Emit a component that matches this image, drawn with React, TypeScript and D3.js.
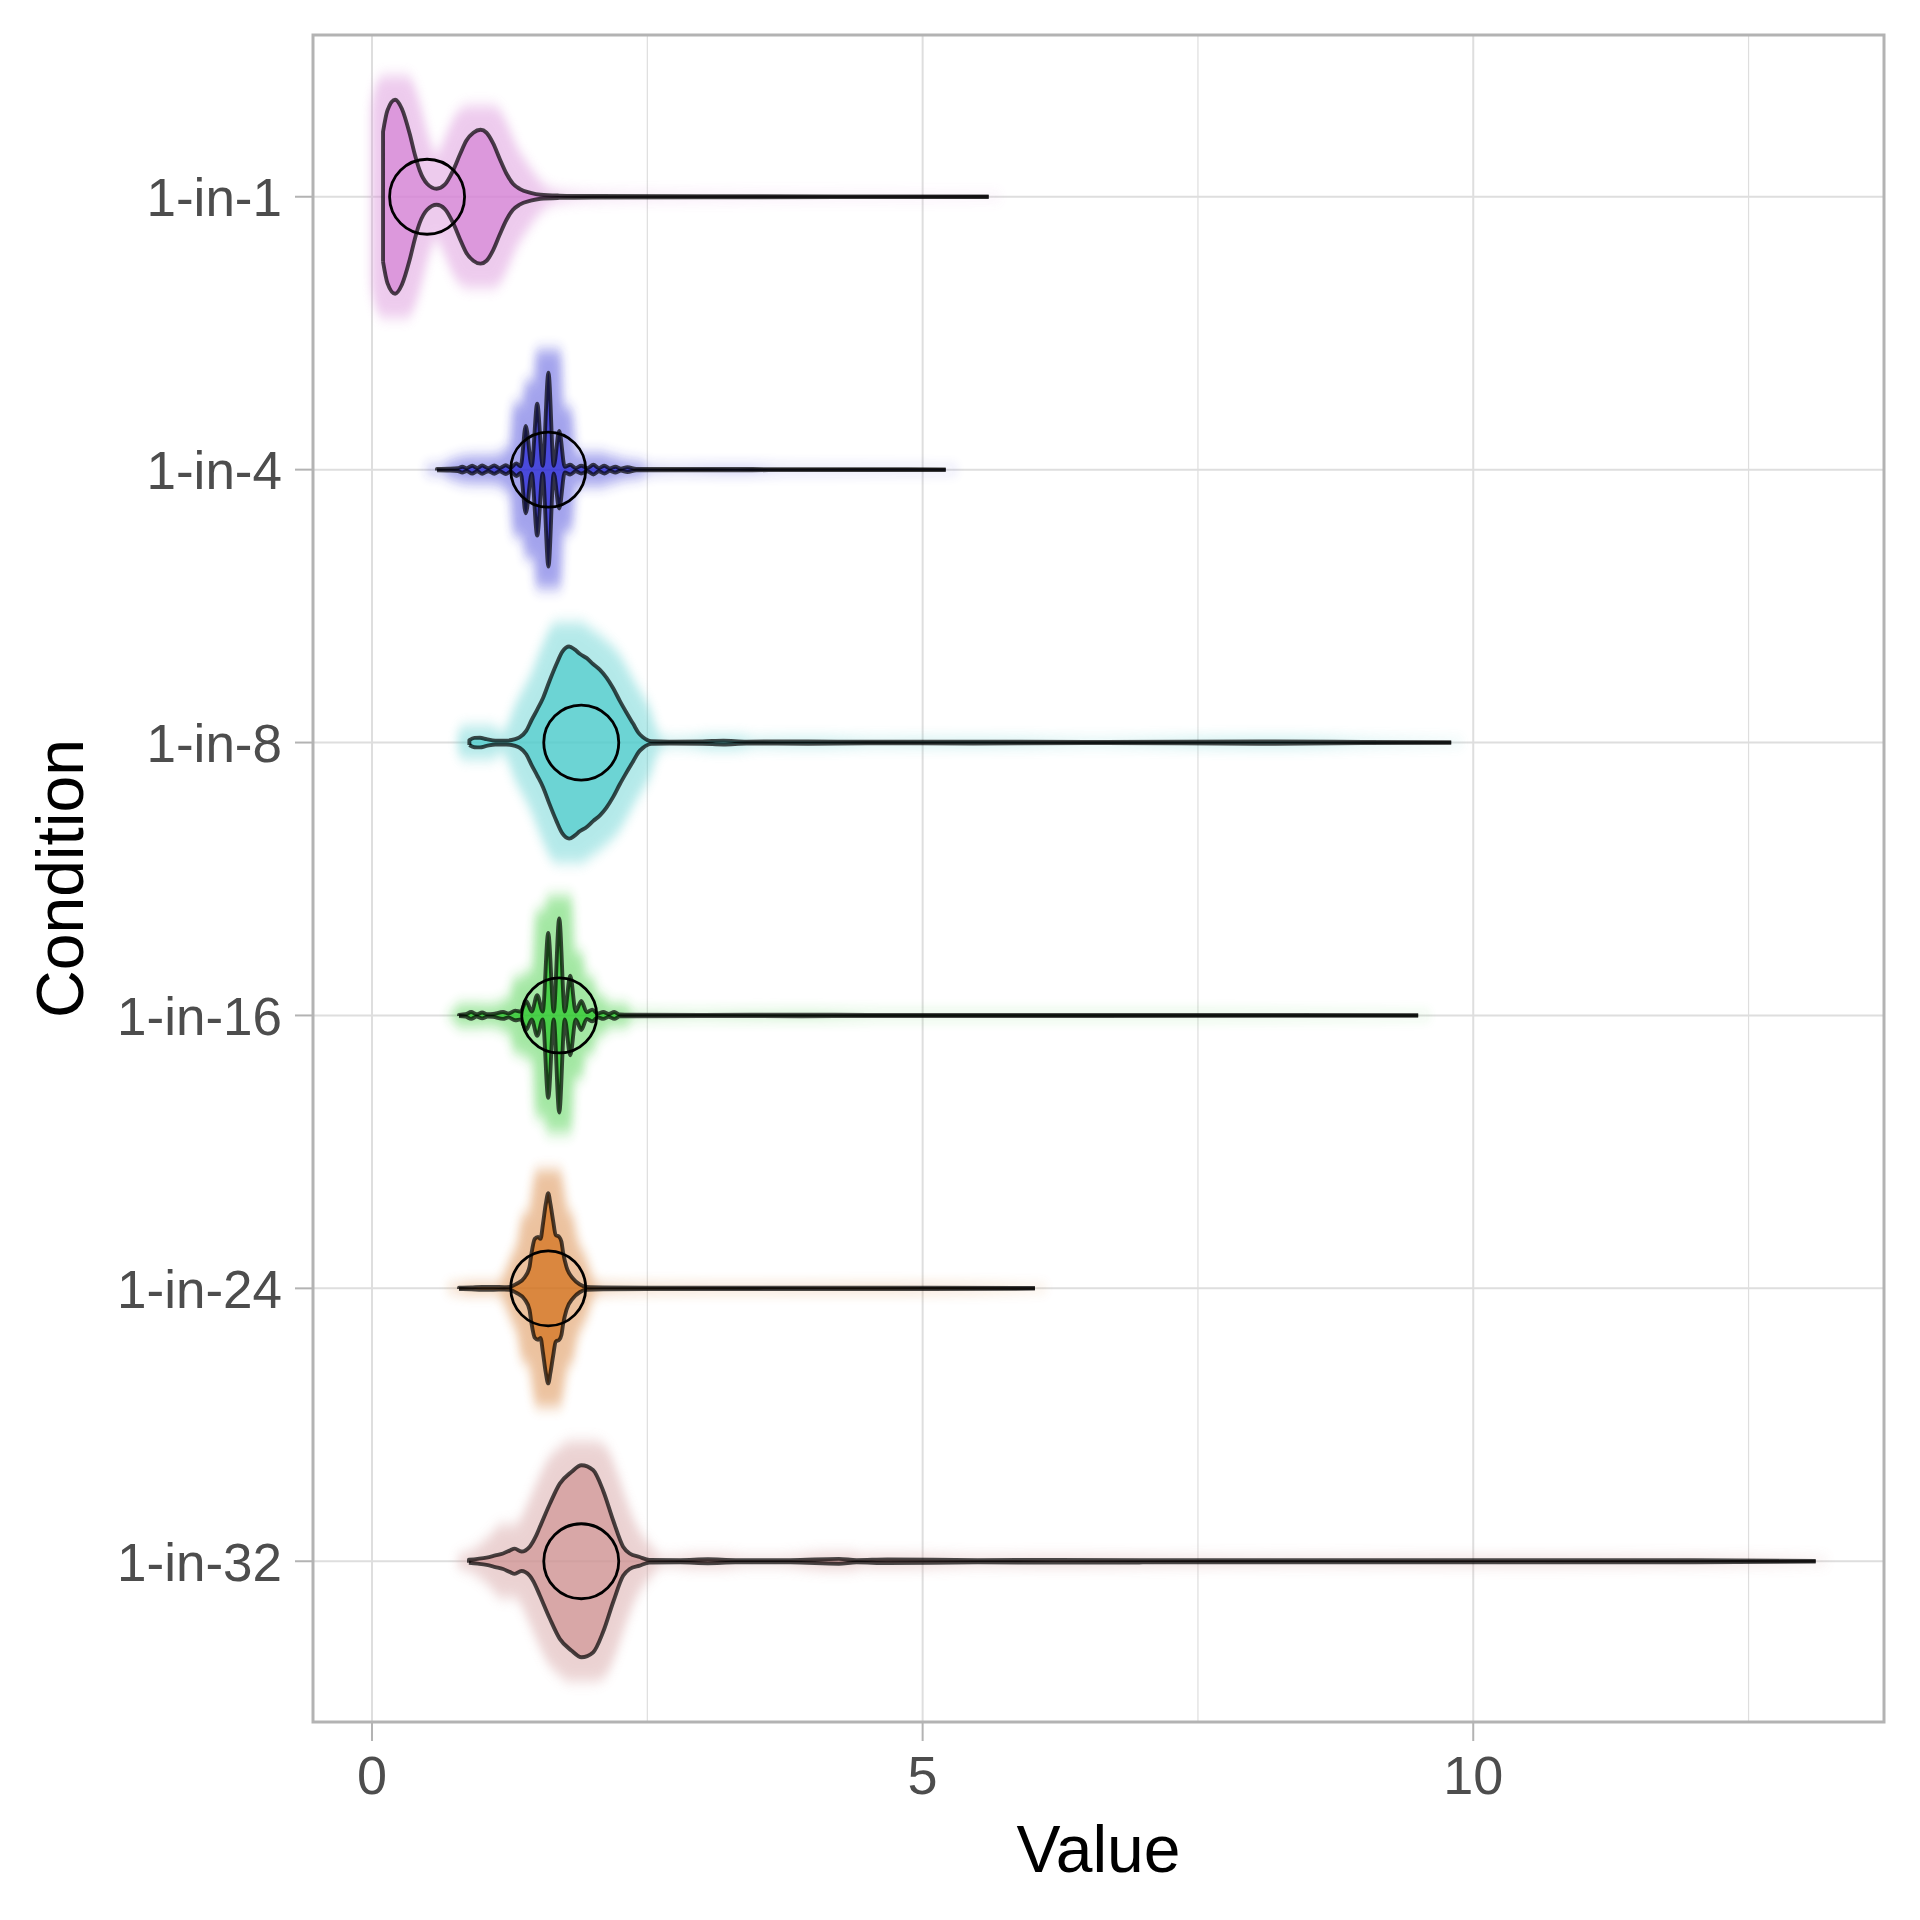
import React from "react";
import * as d3 from "d3";

// categories, top to bottom
const conditions = ["1-in-1", "1-in-4", "1-in-8", "1-in-16", "1-in-24", "1-in-32"];
const fillColors = ["#d684d6", "#2828d4", "#50cccc", "#28c828", "#d2701a", "#d09696"];
// mean of each condition (hollow circle)
const conditionMeans = [0.5, 1.6, 1.9, 1.7, 1.6, 1.9];

const xMajorTicks = [0, 5, 10];
const xMinorTicks = [2.5, 7.5, 12.5];

// violin outlines: [value, relative half-width]
const density1: [number, number][] = [
  [0.1, 0.67], [0.14, 0.89], [0.21, 1.0], [0.27, 0.91], [0.342, 0.65], [0.39, 0.43],
  [0.433, 0.27], [0.5, 0.134], [0.587, 0.082], [0.66, 0.124], [0.736, 0.27], [0.8, 0.44],
  [0.857, 0.58], [0.92, 0.66], [0.985, 0.69], [1.04, 0.66], [1.1, 0.55], [1.16, 0.39],
  [1.22, 0.24], [1.28, 0.134], [1.34, 0.082], [1.44, 0.041], [1.53, 0.021], [1.7, 0.012],
  [2.0, 0.0075], [3.0, 0.005], [4.5, 0.004], [5.6, 0.003],
];

const density4: [number, number][] = [
  [0.59, 0.008], [0.7, 0.01], [0.78, 0.015], [0.82, 0.03], [0.86, 0.015], [0.91, 0.04],
  [0.955, 0.016], [1.0, 0.042], [1.055, 0.016], [1.11, 0.042], [1.16, 0.016], [1.215, 0.045],
  [1.26, 0.02], [1.31, 0.065], [1.35, 0.035], [1.396, 0.45], [1.45, 0.04], [1.5, 0.68],
  [1.55, 0.04], [1.602, 1.0], [1.65, 0.04], [1.7, 0.4], [1.75, 0.03], [1.8, 0.05],
  [1.85, 0.016], [1.9, 0.04], [1.955, 0.016], [2.01, 0.05], [2.06, 0.016], [2.11, 0.04],
  [2.16, 0.013], [2.21, 0.03], [2.26, 0.01], [2.32, 0.025], [2.4, 0.008], [2.8, 0.006],
  [3.3, 0.008], [3.6, 0.005], [4.5, 0.004], [5.21, 0.003],
];

const density8: [number, number][] = [
  [0.884, 0.025], [0.93, 0.048], [0.98, 0.05], [1.04, 0.035], [1.12, 0.02], [1.22, 0.02],
  [1.3, 0.035], [1.342, 0.055], [1.4, 0.12], [1.448, 0.23], [1.5, 0.34], [1.553, 0.46],
  [1.61, 0.63], [1.675, 0.81], [1.73, 0.94], [1.79, 0.99], [1.84, 0.96], [1.886, 0.915],
  [1.95, 0.87], [2.007, 0.81], [2.07, 0.75], [2.129, 0.67], [2.19, 0.56], [2.25, 0.43],
  [2.31, 0.31], [2.373, 0.19], [2.42, 0.1], [2.46, 0.055], [2.537, 0.014], [2.7, 0.01],
  [3.0, 0.012], [3.19, 0.02], [3.4, 0.01], [3.96, 0.012], [4.5, 0.008], [5.46, 0.01],
  [6.5, 0.006], [8.2, 0.012], [9.0, 0.006], [9.8, 0.003],
];

const density16: [number, number][] = [
  [0.79, 0.006], [0.85, 0.012], [0.9, 0.035], [0.95, 0.012], [1.0, 0.03], [1.05, 0.012],
  [1.1, 0.015], [1.19, 0.035], [1.24, 0.02], [1.3, 0.05], [1.35, 0.04], [1.4, 0.15],
  [1.45, 0.04], [1.5, 0.21], [1.55, 0.04], [1.6, 0.85], [1.65, 0.04], [1.7, 1.0],
  [1.75, 0.04], [1.8, 0.41], [1.85, 0.04], [1.9, 0.15], [1.95, 0.035], [2.0, 0.06],
  [2.05, 0.02], [2.1, 0.035], [2.15, 0.015], [2.2, 0.035], [2.25, 0.01], [2.35, 0.008],
  [3.0, 0.006], [3.9, 0.008], [4.5, 0.005], [6.5, 0.005], [9.5, 0.003],
];

const density24: [number, number][] = [
  [0.79, 0.006], [0.9, 0.01], [1.0, 0.015], [1.1, 0.015], [1.2, 0.012], [1.25, 0.015],
  [1.31, 0.045], [1.387, 0.115], [1.43, 0.22], [1.448, 0.36], [1.478, 0.51], [1.508, 0.53],
  [1.53, 0.51], [1.553, 0.67], [1.578, 0.87], [1.6, 0.98], [1.62, 0.87], [1.644, 0.7],
  [1.668, 0.55], [1.7, 0.53], [1.72, 0.48], [1.735, 0.37], [1.766, 0.22], [1.826, 0.1],
  [1.886, 0.04], [1.947, 0.014], [2.1, 0.01], [2.5, 0.008], [3.5, 0.007], [4.6, 0.008],
  [6.02, 0.003],
];

const density32: [number, number][] = [
  [0.88, 0.015], [0.96, 0.025], [1.04, 0.038], [1.12, 0.06], [1.19, 0.08], [1.25, 0.11],
  [1.296, 0.13], [1.357, 0.1], [1.432, 0.15], [1.48, 0.24], [1.523, 0.35], [1.614, 0.59],
  [1.705, 0.8], [1.81, 0.92], [1.902, 0.99], [2.007, 0.94], [2.098, 0.73], [2.19, 0.42],
  [2.28, 0.15], [2.34, 0.08], [2.43, 0.044], [2.52, 0.014], [2.8, 0.012], [3.05, 0.02],
  [3.3, 0.012], [3.8, 0.012], [4.24, 0.025], [4.4, 0.012], [4.68, 0.018], [5.5, 0.012],
  [6.2, 0.014], [7.0, 0.012], [8.5, 0.01], [10.5, 0.012], [12.0, 0.01], [13.11, 0.004],
];

const densities = [density1, density4, density8, density16, density24, density32];

const W = 1920;
const H = 1920;
const panel = { left: 313, right: 1884, top: 35, bottom: 1722 };
const font = "'Liberation Sans', Arial, Helvetica, sans-serif";

export default function App() {
  const x = d3.scaleLinear().domain([-0.536, 13.73]).range([panel.left, panel.right]);
  const y = d3.scalePoint<string>().domain(conditions).range([33, 1725]).padding(0.6);
  const w = d3.scaleLinear().domain([0, 1]).range([0, 97]);
  // soft halo of the jittered points around the body of each violin
  const glowW = (d: number) => w(d) + 24 * Math.min(1, w(d) / 10);

  return (
    <svg
      width={W}
      height={H}
      style={{ position: "absolute", left: 0, top: 0 }}
      fontFamily={font}
    >
      <defs>
        <clipPath id="panel-clip">
          <rect x={panel.left} y={panel.top} width={panel.right - panel.left} height={panel.bottom - panel.top} />
        </clipPath>
        <filter id="glow" filterUnits="userSpaceOnUse" x={0} y={0} width={W} height={H}>
          <feMorphology operator="dilate" radius="12 0" />
          <feGaussianBlur stdDeviation="5 7" />
        </filter>
      </defs>
      <rect width={W} height={H} fill="#ffffff" />

      {/* grid */}
      <g>
        {xMinorTicks.map((t) => (
          <line key={"mn" + t} x1={x(t)} x2={x(t)} y1={panel.top} y2={panel.bottom} stroke="#dedede" strokeWidth={1.2} />
        ))}
        {xMajorTicks.map((t) => (
          <line key={"mj" + t} x1={x(t)} x2={x(t)} y1={panel.top} y2={panel.bottom} stroke="#dedede" strokeWidth={2} />
        ))}
        {conditions.map((c) => (
          <line key={"hg" + c} x1={panel.left} x2={panel.right} y1={y(c)} y2={y(c)} stroke="#dedede" strokeWidth={2} />
        ))}
      </g>

      {/* violins */}
      <g clipPath="url(#panel-clip)">
        {conditions.map((c, i) => {
          const cy = y(c)!;
          const pts = densities[i];
          const color = fillColors[i];
          const area = d3
            .area<[number, number]>()
            .x((d) => x(d[0]))
            .y0((d) => cy - w(d[1]))
            .y1((d) => cy + w(d[1]))
            .curve(d3.curveMonotoneX);
          const glowArea = d3
            .area<[number, number]>()
            .x((d) => x(d[0]))
            .y0((d) => cy - glowW(d[1]))
            .y1((d) => cy + glowW(d[1]))
            .curve(d3.curveMonotoneX);
          const upper = d3
            .line<[number, number]>()
            .x((d) => x(d[0]))
            .y((d) => cy - w(d[1]))
            .curve(d3.curveMonotoneX);
          const lower = d3
            .line<[number, number]>()
            .x((d) => x(d[0]))
            .y((d) => cy + w(d[1]))
            .curve(d3.curveMonotoneX);
          const first = pts[0];
          // closing edge at the minimum, then the upper outline
          const upperPath = `M${x(first[0])},${cy + w(first[1])}L` + upper(pts)!.slice(1);
          return (
            <g key={c}>
              <path d={glowArea(pts)!} fill={color} opacity={0.42} filter="url(#glow)" />
              <path d={area(pts)!} fill={color} fillOpacity={0.72} />
              <path d={upperPath} fill="none" stroke="#000" strokeOpacity={0.7} strokeWidth={3.9} strokeLinejoin="round" />
              <path d={lower(pts)!} fill="none" stroke="#000" strokeOpacity={0.7} strokeWidth={3.9} strokeLinejoin="round" />
              <circle cx={x(conditionMeans[i])} cy={cy} r={37.5} fill="none" stroke="#000" strokeWidth={2.8} />
            </g>
          );
        })}
      </g>

      {/* panel border */}
      <rect
        x={panel.left}
        y={panel.top}
        width={panel.right - panel.left}
        height={panel.bottom - panel.top}
        fill="none"
        stroke="#b3b3b3"
        strokeWidth={3}
      />

      {/* y axis */}
      <g>
        {conditions.map((c) => (
          <g key={"yt" + c}>
            <line x1={295} x2={panel.left} y1={y(c)} y2={y(c)} stroke="#b3b3b3" strokeWidth={2} />
            <text x={282} y={y(c)! + 19.3} textAnchor="end" fontSize={53} fill="#4d4d4d">
              {c}
            </text>
          </g>
        ))}
        <text transform={`translate(83,${(panel.top + panel.bottom) / 2}) rotate(-90)`} textAnchor="middle" fontSize={66} fill="#000">
          Condition
        </text>
      </g>

      {/* x axis */}
      <g>
        {xMajorTicks.map((t) => (
          <g key={"xt" + t}>
            <line x1={x(t)} x2={x(t)} y1={panel.bottom} y2={1741} stroke="#b3b3b3" strokeWidth={2} />
            <text x={x(t)} y={1794} textAnchor="middle" fontSize={54} fill="#4d4d4d">
              {t}
            </text>
          </g>
        ))}
        <text x={(panel.left + panel.right) / 2} y={1872} textAnchor="middle" fontSize={66} fill="#000">
          Value
        </text>
      </g>
    </svg>
  );
}
